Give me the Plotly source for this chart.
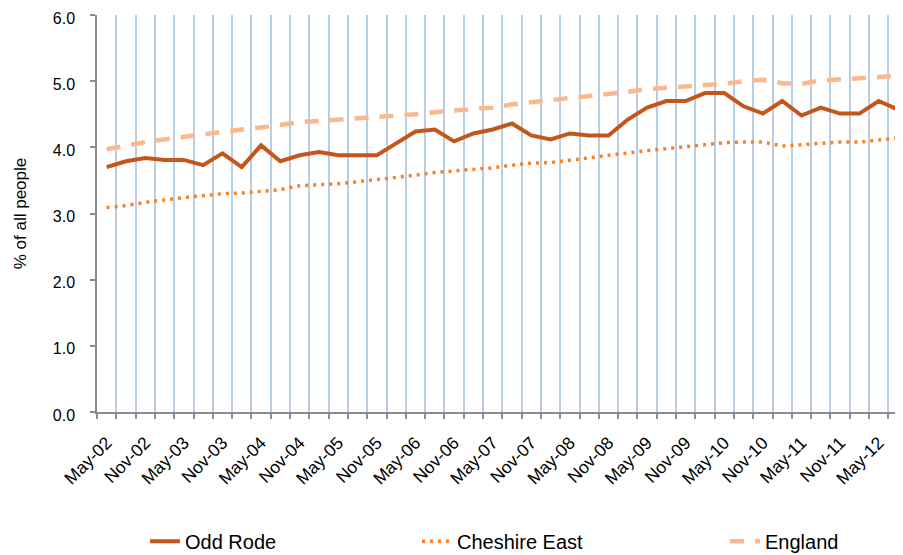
import plotly.graph_objects as go

# Quarterly periods May-02 .. Aug-12
months = ["Feb", "May", "Aug", "Nov"]
categories = []
for yr in range(2, 13):
    for m in months:
        categories.append(f"{m}-{yr:02d}")
categories = categories[1:-1]  # May-02 .. Aug-12 (42 quarters)

odd_rode = [3.70, 3.79, 3.84, 3.81, 3.81, 3.73, 3.91, 3.70, 4.03, 3.79,
            3.88, 3.93, 3.88, 3.88, 3.88, 4.06, 4.24, 4.27, 4.09, 4.21,
            4.27, 4.36, 4.18, 4.12, 4.21, 4.18, 4.18, 4.42, 4.60, 4.70,
            4.70, 4.82, 4.82, 4.62, 4.51, 4.70, 4.48, 4.60, 4.51, 4.51,
            4.70, 4.57]
cheshire_east = [3.09, 3.12, 3.17, 3.21, 3.24, 3.27, 3.30, 3.31, 3.34, 3.36,
                 3.42, 3.43, 3.45, 3.48, 3.51, 3.55, 3.58, 3.62, 3.64, 3.66,
                 3.69, 3.73, 3.76, 3.77, 3.80, 3.84, 3.88, 3.92, 3.95, 3.98,
                 4.01, 4.04, 4.07, 4.08, 4.08, 4.02, 4.04, 4.07, 4.08, 4.08,
                 4.11, 4.14]
england = [3.97, 4.03, 4.08, 4.12, 4.16, 4.20, 4.23, 4.27, 4.30, 4.34,
           4.38, 4.40, 4.42, 4.44, 4.45, 4.47, 4.50, 4.53, 4.56, 4.58,
           4.60, 4.65, 4.68, 4.71, 4.74, 4.78, 4.81, 4.84, 4.88, 4.90,
           4.92, 4.94, 4.96, 5.00, 5.02, 4.97, 4.96, 5.01, 5.03, 5.04,
           5.07, 5.08]

y_ticks = [0, 1, 2, 3, 4, 5, 6]

n = len(categories)
xs = list(range(n))
label_idx = list(range(0, n, 2))
label_txt = [categories[i] for i in label_idx]
boundaries = [i - 0.5 for i in range(n + 1)]

FONT = "Liberation Sans, Arial, sans-serif"
AXIS = "#8C8C8C"
W, H = 895, 547  # page body has an 8px margin inside the 903x555 window

fig = go.Figure()
fig.add_trace(go.Scatter(x=xs, y=odd_rode, name="Odd Rode", mode="lines",
                         line=dict(color="#C4561A", width=4), legend="legend"))
fig.add_trace(go.Scatter(x=xs, y=cheshire_east, name="Cheshire East", mode="lines",
                         line=dict(color="#F5822A", width=3.5, dash="3px,5px"),
                         legend="legend2"))
fig.add_trace(go.Scatter(x=xs, y=england, name="England", mode="lines",
                         line=dict(color="#FAB98C", width=4.5, dash="14px,11px"),
                         legend="legend3"))

leg_common = dict(orientation="h", xref="container", yref="container",
                  xanchor="left", y=0.025, yanchor="middle",
                  font=dict(size=20, family=FONT), bgcolor="rgba(0,0,0,0)")

fig.update_layout(
    width=W, height=H,
    margin=dict(l=89, r=0, t=7, b=143, autoexpand=False),
    plot_bgcolor="white", paper_bgcolor="white",
    font=dict(family=FONT, color="#000000", size=16),
    showlegend=True,
    legend=dict(x=137 / W, **leg_common),
    legend2=dict(x=409 / W, **leg_common),
    legend3=dict(x=717 / W, **leg_common),
)
fig.update_xaxes(
    range=[-0.5, 41.26], tickmode="array", tickvals=label_idx, ticktext=label_txt,
    tickangle=-45, ticks="", showgrid=False, zeroline=False,
    showline=True, linecolor=AXIS, linewidth=1.5,
    tickfont=dict(size=17.5, family=FONT), ticklabelstandoff=12,
    minor=dict(tickmode="array", tickvals=boundaries, showgrid=True,
               gridcolor="#B9CDE5", gridwidth=2, ticks="outside",
               ticklen=5, tickcolor=AXIS, tickwidth=1.5),
)
fig.update_yaxes(
    range=[0, 6], tickmode="array", tickvals=y_ticks, tickformat=".1f",
    ticks="outside", ticklen=5, tickcolor=AXIS, tickwidth=1.5,
    showline=True, linecolor=AXIS, linewidth=1.5, showgrid=False, zeroline=False,
    tickfont=dict(size=16, family=FONT), ticklabelstandoff=12,
    ticklabeloverflow="allow", ticklabelshift=3,
    title=dict(text="% of all people", font=dict(size=17, family=FONT), standoff=22),
)

fig.write_html("out.html")
